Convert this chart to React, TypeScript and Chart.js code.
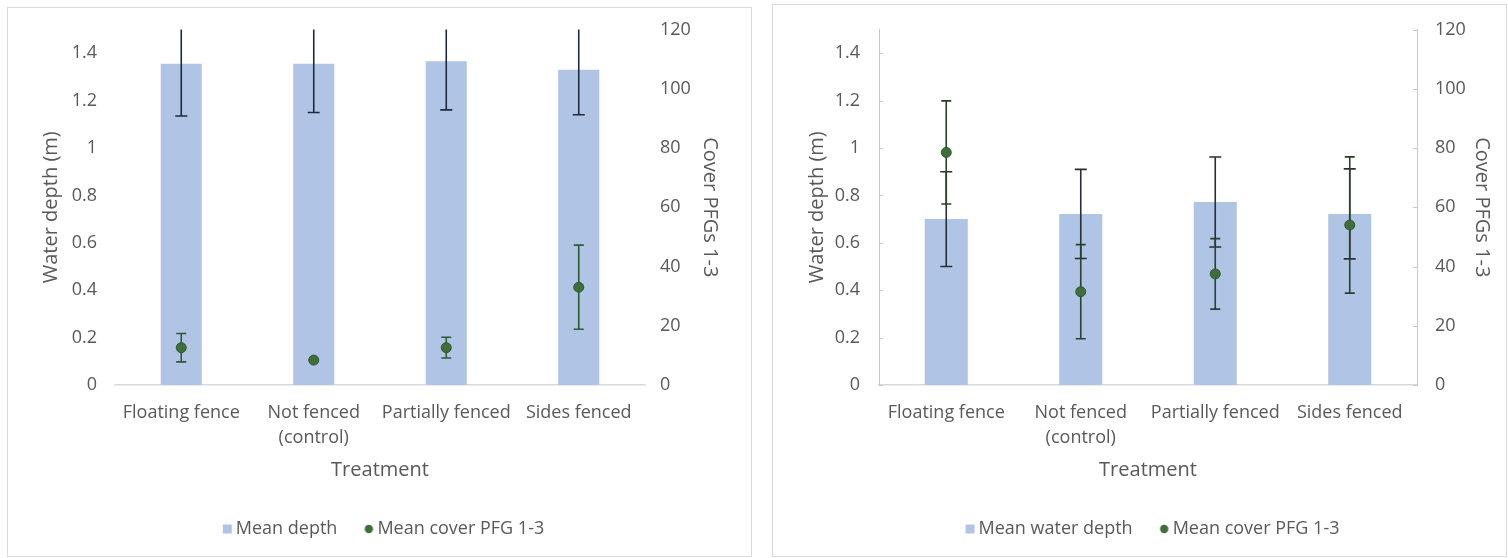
import React, { useEffect, useRef } from "react";
import { Chart, registerables } from "chart.js";

Chart.register(...registerables);

const FONT = "'Open Sans', sans-serif";
const TEXT = "#595959";

// shared categories
const categories: (string | string[])[] = [
  "Floating fence",
  ["Not fenced", "(control)"],
  "Partially fenced",
  "Sides fenced",
];

// left panel
const depthLeft = [1.355, 1.355, 1.366, 1.33];
const depthErrLeft = [0.22, 0.205, 0.205, 0.19];
const coverLeft = [12.6, 8.4, 12.6, 33];
const coverErrLeft = [4.8, 0, 3.5, 14.2];

// right panel
const depthRight = [0.7, 0.722, 0.772, 0.722];
const depthErrRight = [0.2, 0.188, 0.19, 0.19];
const coverRight = [78.5, 31.5, 37.5, 54];
const coverErrRight = [17.4, 15.9, 11.9, 23];

// axes
const depthAxis = { min: 0, max: 1.5, step: 0.2, lastLabel: 1.4 };
const coverAxis = { min: 0, max: 120, step: 20 };

const BAR_COLOR = "#b0c4e6";
const DOT_COLOR = "#3f6e3a";

type PanelProps = {
  left: number;
  top: number;
  width: number;
  height: number;
  depth: number[];
  depthErr: number[];
  cover: number[];
  coverErr: number[];
  barLabel: string;
  pad: { left: number; right: number; top: number; bottom: number };
  yW: number;
  y1W: number;
  yPad: number;
  y1Pad: number;
  axisLines: boolean;
  barPct: number;
  depthColor: string;
  coverColor: string;
  xTitlePad: number;
};

function makeMarker(kind: "rect" | "dot") {
  const c = document.createElement("canvas");
  c.width = 22;
  c.height = 10;
  const g = c.getContext("2d")!;
  if (kind === "rect") {
    g.fillStyle = BAR_COLOR;
    g.fillRect(12, 0.5, 9, 9);
  } else {
    g.fillStyle = DOT_COLOR;
    g.beginPath();
    g.arc(16.5, 5, 4.2, 0, Math.PI * 2);
    g.fill();
  }
  return c;
}

const noPad = (s: any) => {
  s.paddingTop = 0;
  s.paddingBottom = 0;
  s.paddingLeft = 0;
  s.paddingRight = 0;
};

function Panel(p: PanelProps) {
  const ref = useRef<HTMLCanvasElement>(null);
  const innerW = p.width - 2;
  const innerH = p.height - 2;

  useEffect(() => {
    if (!ref.current) return;
    const rectImg = makeMarker("rect");
    const dotImg = makeMarker("dot");

    const errorPlugin = {
      id: "errorBarsLocal",
      afterDatasetDraw(chart: any, args: any) {
        if (args.index !== 0) return;
        const { ctx, chartArea, scales } = chart;
        const xs = scales.x;
        ctx.save();
        ctx.beginPath();
        ctx.rect(chartArea.left, chartArea.top, chartArea.right - chartArea.left, chartArea.bottom - chartArea.top);
        ctx.clip();
        const draw = (vals: number[], errs: number[], scale: any, color: string, cap: number) => {
          ctx.strokeStyle = color;
          ctx.lineWidth = 1.6;
          vals.forEach((v, i) => {
            const e = errs[i];
            if (!e) return;
            const px = xs.getPixelForValue(i);
            const t = scale.getPixelForValue(v + e);
            const b = scale.getPixelForValue(v - e);
            ctx.beginPath();
            ctx.moveTo(px, t);
            ctx.lineTo(px, b);
            ctx.moveTo(px - cap, t);
            ctx.lineTo(px + cap, t);
            ctx.moveTo(px - cap, b);
            ctx.lineTo(px + cap, b);
            ctx.stroke();
          });
        };
        draw(p.depth, p.depthErr, scales.y, p.depthColor, 6);
        draw(p.cover, p.coverErr, scales.y1, p.coverColor, 5);
        ctx.restore();
      },
      afterDraw(chart: any) {
        if (!p.axisLines) return;
        const { ctx, chartArea, scales } = chart;
        ctx.save();
        ctx.strokeStyle = "#c8c8c8";
        ctx.lineWidth = 1;
        scales.y.ticks.forEach((t: any) => {
          const py = Math.round(scales.y.getPixelForValue(t.value)) + 0.5;
          ctx.beginPath();
          ctx.moveTo(chartArea.left, py);
          ctx.lineTo(chartArea.left + 4, py);
          ctx.stroke();
        });
        scales.y1.ticks.forEach((t: any) => {
          const py = Math.round(scales.y1.getPixelForValue(t.value)) + 0.5;
          ctx.beginPath();
          ctx.moveTo(chartArea.right - 4, py);
          ctx.lineTo(chartArea.right, py);
          ctx.stroke();
        });
        ctx.restore();
      },
    };

    const chart = new Chart(ref.current, {
      type: "bar",
      data: {
        labels: categories as any,
        datasets: [
          {
            type: "bar",
            label: p.barLabel,
            data: p.depth,
            backgroundColor: BAR_COLOR,
            borderWidth: 0,
            barPercentage: p.barPct,
            categoryPercentage: 1,
            yAxisID: "y",
            order: 2,
          } as any,
          {
            type: "line",
            label: "Mean cover PFG 1-3",
            data: p.cover,
            showLine: false,
            pointRadius: 5,
            pointBackgroundColor: DOT_COLOR,
            pointBorderColor: "#2f5a2b",
            pointBorderWidth: 1,
            backgroundColor: DOT_COLOR,
            borderColor: DOT_COLOR,
            yAxisID: "y1",
            order: 1,
          } as any,
        ],
      },
      options: {
        animation: false,
        responsive: false,
        maintainAspectRatio: false,
        layout: { padding: p.pad },
        font: { family: FONT },
        scales: {
          x: {
            type: "category",
            offset: true,
            grid: { display: false, drawTicks: false },
            border: { display: true, color: "#d9d9d9", width: 1.5 },
            ticks: {
              padding: 15,
              color: TEXT,
              font: { family: FONT, size: 18, lineHeight: 1.4 },
              maxRotation: 0,
              minRotation: 0,
              autoSkip: false,
            },
            title: {
              display: true,
              text: "Treatment",
              color: TEXT,
              font: { family: FONT, size: 20 },
              padding: { top: 4, bottom: p.xTitlePad },
            },
            afterFit: (s: any) => {
              s.height = 114;
              noPad(s);
            },
          },
          y: {
            position: "left",
            min: depthAxis.min,
            max: depthAxis.max,
            ticks: {
              stepSize: depthAxis.step,
              padding: p.yPad,
              color: TEXT,
              font: { family: FONT, size: 18 },
              callback: (v: any) => String(Math.round(Number(v) * 10) / 10),
            },
            afterBuildTicks: (s: any) => {
              s.ticks = s.ticks.filter((t: any) => t.value <= depthAxis.lastLabel + 1e-6);
            },
            grid: { display: false, drawTicks: false },
            border: { display: p.axisLines, color: "#c8c8c8", width: 1 },
            title: {
              display: true,
              text: "Water depth (m)",
              color: TEXT,
              font: { family: FONT, size: 20 },
              padding: { top: 4, bottom: 4 },
            },
            afterFit: (s: any) => {
              s.width = p.yW;
              noPad(s);
            },
          },
          y1: {
            position: "right",
            min: coverAxis.min,
            max: coverAxis.max,
            ticks: {
              stepSize: coverAxis.step,
              padding: p.y1Pad,
              color: TEXT,
              font: { family: FONT, size: 18 },
            },
            grid: { display: false, drawTicks: false },
            border: { display: p.axisLines, color: "#c8c8c8", width: 1 },
            title: {
              display: true,
              text: "Cover PFGs 1-3",
              color: TEXT,
              font: { family: FONT, size: 20 },
              padding: { top: 4, bottom: 4 },
            },
            afterFit: (s: any) => {
              s.width = p.y1W;
              noPad(s);
            },
          },
        },
        plugins: {
          tooltip: { enabled: false },
          legend: {
            position: "bottom",
            labels: {
              usePointStyle: true,
              boxWidth: 10,
              boxHeight: 10,
              padding: 21,
              color: TEXT,
              font: { family: FONT, size: 18 },
              sort: (a: any, b: any) => a.datasetIndex - b.datasetIndex,
              generateLabels: (chart: any) => {
                const items = (Chart.defaults.plugins.legend.labels as any).generateLabels(chart);
                items.forEach((it: any) => {
                  it.pointStyle = it.datasetIndex === 0 ? rectImg : dotImg;
                  it.rotation = 0;
                });
                return items;
              },
            },
          },
        },
      } as any,
      plugins: [errorPlugin as any],
    });
    return () => chart.destroy();
  }, []);

  return (
    <div
      style={{
        position: "absolute",
        left: p.left,
        top: p.top,
        width: p.width,
        height: p.height,
        boxSizing: "border-box",
        border: "1px solid #d9d9d9",
        background: "#fff",
      }}
    >
      <canvas ref={ref} width={innerW} height={innerH} style={{ display: "block", width: innerW, height: innerH }} />
    </div>
  );
}

export default function App() {
  return (
    <div style={{ position: "absolute", left: 0, top: 0, width: 1508, height: 558, background: "#fff", overflow: "hidden" }}>
      <Panel
        left={7}
        top={7}
        width={745}
        height={550}
        depth={depthLeft}
        depthErr={depthErrLeft}
        cover={coverLeft}
        coverErr={coverErrLeft}
        barLabel="Mean depth"
        pad={{ left: 27, right: 25, top: 21.5, bottom: 8 }}
        yW={80}
        y1W={81}
        yPad={18}
        y1Pad={15}
        axisLines={false}
        barPct={0.31}
        depthColor="#1f2a3d"
        coverColor="#2e5b2e"
        xTitlePad={17}
      />
      <Panel
        left={772}
        top={4}
        width={735}
        height={553}
        depth={depthRight}
        depthErr={depthErrRight}
        cover={coverRight}
        coverErr={coverErrRight}
        barLabel="Mean water depth"
        pad={{ left: 28, right: 8, top: 24.5, bottom: 8 }}
        yW={78}
        y1W={81}
        yPad={19}
        y1Pad={18}
        axisLines={true}
        barPct={0.32}
        depthColor="#2a2e33"
        coverColor="#27412a"
        xTitlePad={17}
      />
    </div>
  );
}
